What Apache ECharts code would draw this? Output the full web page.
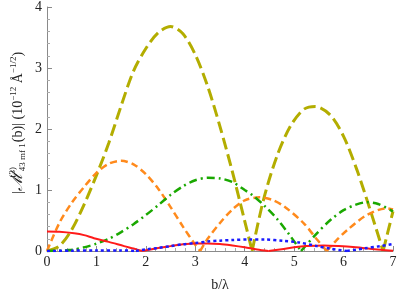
<!DOCTYPE html>
<html><head><meta charset="utf-8">
<script src="https://cdn.jsdelivr.net/npm/echarts@6/dist/echarts.min.js"></script>
<style>html,body{margin:0;padding:0;background:#fff}#c{width:403px;height:299px}</style>
</head><body><div id="c"></div>
<script>
const xTicks = [0,1,2,3,4,5,6,7];
const yTicks = [0,1,2,3,4];
const oliveX = [0,0.25,0.5,0.75,1,1.25,1.5,1.75,2,2.25,2.5,2.75,3,3.25,3.5,3.75,4,4.15,4.38,4.65,4.92,5.19,5.43,5.73,6,6.27,6.54,6.8,7];
const oliveY = [0,0.08,0.35,0.76,1.24,1.77,2.38,2.95,3.32,3.58,3.68,3.56,3.22,2.7,2.04,1.3,0.49,0,0.84,1.55,2.04,2.32,2.37,2.23,1.88,1.33,0.67,0,0.65];
const orangeX = [0,0.25,0.5,0.75,1,1.25,1.5,1.75,2,2.25,2.5,2.75,3,3.1,3.25,3.5,3.75,4,4.3,4.55,4.8,5.2,5.45,5.66,5.85,6.07,6.47,6.88,7];
const orangeY = [0,0.46,0.79,1.05,1.28,1.43,1.48,1.42,1.26,1.02,0.72,0.4,0.1,0,0.2,0.46,0.68,0.83,0.88,0.84,0.73,0.45,0.2,0,0.17,0.34,0.59,0.7,0.68];
const greenX = [0,0.25,0.5,0.75,1,1.25,1.5,1.75,2,2.25,2.5,2.75,3,3.25,3.5,3.75,4,4.18,4.4,4.65,4.9,5.14,5.46,5.75,6,6.25,6.47,6.7,7];
const greenY = [0,0.005,0.02,0.06,0.12,0.2,0.31,0.44,0.59,0.75,0.92,1.06,1.16,1.2,1.19,1.13,1.0,0.9,0.74,0.53,0.27,0,0.29,0.52,0.67,0.76,0.8,0.77,0.65];
const redX = [0,0.25,0.55,0.75,0.95,1.25,1.56,1.75,1.93,2.25,2.5,2.75,3,3.25,3.5,3.75,4,4.25,4.48,4.75,5,5.25,5.6,5.9,6.25,6.5,6.75,7];
const redY = [0.32,0.315,0.29,0.26,0.21,0.15,0.08,0.04,0,0.05,0.08,0.11,0.125,0.125,0.115,0.09,0.06,0.025,0,0.03,0.06,0.08,0.09,0.08,0.06,0.04,0.02,0.005];
const blueX = [0,0.5,1,1.5,1.8,2,2.25,2.5,2.75,3,3.25,3.5,3.75,4.1,4.4,4.78,5.1,5.46,5.75,6.07,6.4,6.74,7];
const blueY = [0,0.005,0.01,0.01,0,0.025,0.05,0.08,0.11,0.13,0.155,0.17,0.18,0.19,0.19,0.165,0.14,0.08,0.035,0,0.04,0.08,0.115];

const serif = 'Liberation Serif';
// split a curve at its interior zeros so that cusps stay sharp
function segments(xs, ys) {
  const segs = []; let cur = [];
  xs.forEach((x, i) => {
    cur.push([x, ys[i]]);
    if (ys[i] === 0 && i > 0 && i < xs.length - 1) { segs.push(cur); cur = [[x, ys[i]]]; }
  });
  segs.push(cur);
  return segs;
}
function lines(name, xs, ys, color, width, dash, z) {
  return segments(xs, ys).map(d => ({name, type: 'line', data: d, showSymbol: false, smooth: 0.3,
    lineStyle: {color, width, type: dash}, z}));
}
const chart = echarts.init(document.getElementById('c'));
chart.setOption({
  animation: false,
  grid: {left: 47, right: 10, top: 7, bottom: 48},
  xAxis: {type: 'value', min: xTicks[0], max: xTicks[xTicks.length-1], interval: 1,
    name: 'b/λ', nameLocation: 'middle', nameGap: 27,
    nameTextStyle: {fontFamily: serif, fontSize: 14, color: '#222'},
    axisLine: {lineStyle: {color: '#8a8a8a', width: 1}},
    axisTick: {inside: true, length: 5, lineStyle: {color: '#8a8a8a'}},
    minorTick: {show: true, splitNumber: 5, length: 3, lineStyle: {color: '#aaa'}},
    splitLine: {show: false},
    axisLabel: {fontFamily: serif, fontSize: 14, color: '#222', margin: 4}},
  yAxis: {type: 'value', min: yTicks[0], max: yTicks[yTicks.length-1], interval: 1,
    axisLine: {show: true, lineStyle: {color: '#8a8a8a', width: 1}},
    axisTick: {show: true, inside: true, length: 5, lineStyle: {color: '#8a8a8a'}},
    minorTick: {show: true, splitNumber: 5, length: 3, lineStyle: {color: '#aaa'}},
    splitLine: {show: false},
    axisLabel: {fontFamily: serif, fontSize: 14, color: '#222', margin: 5}},
  graphic: [{
    type: 'text', x: 18, y: 123, rotation: Math.PI/2,
    style: {
      text: '{m||}{cm|ℳ}{sp|(3)}{sb|43 mf 1}{m|(b)| (10}{s2|−12}{m| Å}{s2|−1/2}{m|)}',
      align: 'center', verticalAlign: 'middle', fill: '#222',
      rich: {
        m: {fontFamily: serif, fontSize: 14, fill: '#222', lineHeight: 26, verticalAlign: 'middle'},
        cm: {fontFamily: 'DejaVu Serif', fontStyle: 'italic', fontSize: 16, fill: '#222', lineHeight: 26, verticalAlign: 'middle'},
        sp: {fontFamily: serif, fontSize: 9, fill: '#222', width: 0.1, padding: [0,0,11,1]},
        sb: {fontFamily: serif, fontSize: 9, fill: '#222', padding: [9,1,0,1]},
        s2: {fontFamily: serif, fontSize: 9, fill: '#222', padding: [0,0,9,0]}
      }
    }
  }],
  series: [].concat(
    lines('olive', oliveX, oliveY, '#b3ad00', 3, [12, 5], 3),
    lines('orange', orangeX, orangeY, '#ff8a1c', 2.5, [7, 4], 4),
    lines('green', greenX, greenY, '#1aa800', 2.5, [8, 4, 2, 4], 5),
    lines('red', redX, redY, '#ff1a1a', 2, 'solid', 6),
    lines('blue', blueX, blueY, '#1a1aff', 2.5, [3, 3], 7)
  )
});
</script></body></html>
